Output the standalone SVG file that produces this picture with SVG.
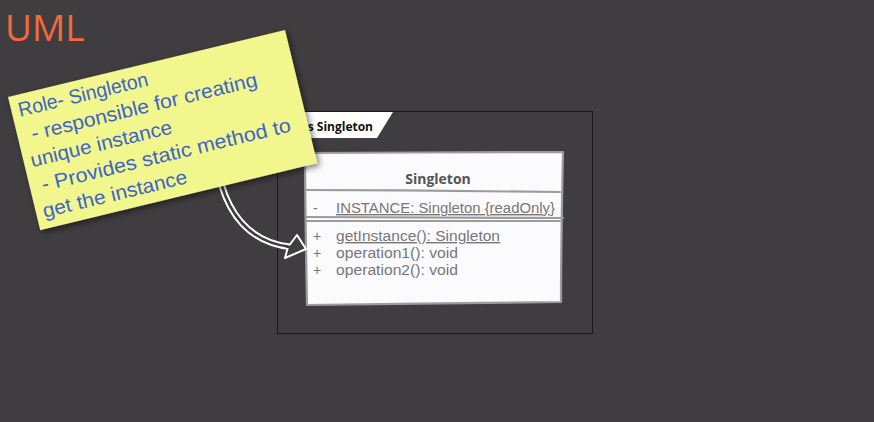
<svg xmlns="http://www.w3.org/2000/svg" width="874" height="422" viewBox="0 0 874 422">
<defs>
<style>
.cls{font-family:"Liberation Sans","Open Sans",sans-serif;font-size:14px;fill:#777}
.note{font-family:"Liberation Sans","DejaVu Sans",sans-serif;font-size:20px;fill:#3d63c9}
.sk{fill:none;stroke:#9c9c9c;stroke-width:2.2;stroke-linecap:round}
</style>
<filter id="sh" x="-10%" y="-10%" width="130%" height="130%">
<feGaussianBlur in="SourceAlpha" stdDeviation="3"/>
<feOffset dx="2" dy="3"/>
<feComponentTransfer><feFuncA type="linear" slope="0.5"/></feComponentTransfer>
<feMerge><feMergeNode/><feMergeNode in="SourceGraphic"/></feMerge>
</filter>
</defs>
<rect width="874" height="422" fill="#3f3d40"/>
<text x="5" y="41" font-family="'Open Sans','Liberation Sans',sans-serif" font-size="37" fill="#f26a3c">UML</text>

<g id="frame">
<rect x="277.5" y="111.5" width="315" height="222" fill="none" stroke="#1a1a1a" stroke-width="1"/>
<polygon points="278,112 393,112 377,138 278,138" fill="#ffffff"/>
<text x="373" y="131" text-anchor="end" font-family="'Open Sans','Liberation Sans',sans-serif" font-size="12" font-weight="bold" fill="#111">class Singleton</text>
</g>

<g id="singleton">
<path d="M305,153 L563,152 L561,302 L307,305 Z" fill="#fbfafd"/>
<path class="sk" d="M305,153 C390,152 480,153 563,152 M563,152 C562,200 561,250 561,302 M561,302 C480,303 390,304 307,305 M307,305 C306,250 305,200 305,153"/>
<path class="sk" d="M306,190 C390,190 480,191 560,192"/>
<path class="sk" d="M306,217 C400,217 480,218 563,218 M306,221 C400,221 480,221 560,221"/>
<text x="438" y="184" text-anchor="middle" font-family="'Open Sans','Liberation Sans',sans-serif" font-size="14" font-weight="bold" fill="#555">Singleton</text>
<text class="cls" x="313" y="213">-</text>
<text class="cls" x="336" y="213" text-decoration="underline" textLength="219" lengthAdjust="spacingAndGlyphs">INSTANCE: Singleton {readOnly}</text>
<text class="cls" x="313" y="241">+</text>
<text class="cls" x="336" y="241" text-decoration="underline" textLength="164" lengthAdjust="spacingAndGlyphs">getInstance(): Singleton</text>
<text class="cls" x="313" y="258">+</text>
<text class="cls" x="336" y="258" textLength="122" lengthAdjust="spacingAndGlyphs">operation1(): void</text>
<text class="cls" x="313" y="275">+</text>
<text class="cls" x="336" y="275" textLength="122" lengthAdjust="spacingAndGlyphs">operation2(): void</text>
</g>

<g id="connectors">
<path d="M216,160 Q228,240 291,247" fill="none" stroke="#ffffff" stroke-width="6.5"/>
<path d="M216,160 Q228,240 291,247" fill="none" stroke="#3f3d40" stroke-width="2.6"/>
<polygon points="297,235 306,249 285,258 288,247" fill="#3f3d40" stroke="#ffffff" stroke-width="2" stroke-linejoin="round"/>
<path d="M286,246.5 L292,247.3" fill="none" stroke="#3f3d40" stroke-width="2.6"/>
</g>

<g id="note" transform="translate(8,97) rotate(-13.6)">
<rect x="0" y="0" width="285" height="137" fill="#f1f78d" filter="url(#sh)"/>
<text class="note" x="7" y="22" textLength="133" lengthAdjust="spacingAndGlyphs">Role- Singleton</text>
<text class="note" x="14" y="48" textLength="232" lengthAdjust="spacingAndGlyphs">- responsible for creating</text>
<text class="note" x="7" y="74" textLength="145" lengthAdjust="spacingAndGlyphs">unique instance</text>
<text class="note" x="12" y="100" textLength="256" lengthAdjust="spacingAndGlyphs">- Provides static method to</text>
<text class="note" x="7" y="126" textLength="148" lengthAdjust="spacingAndGlyphs">get the instance</text>
</g>
</svg>
